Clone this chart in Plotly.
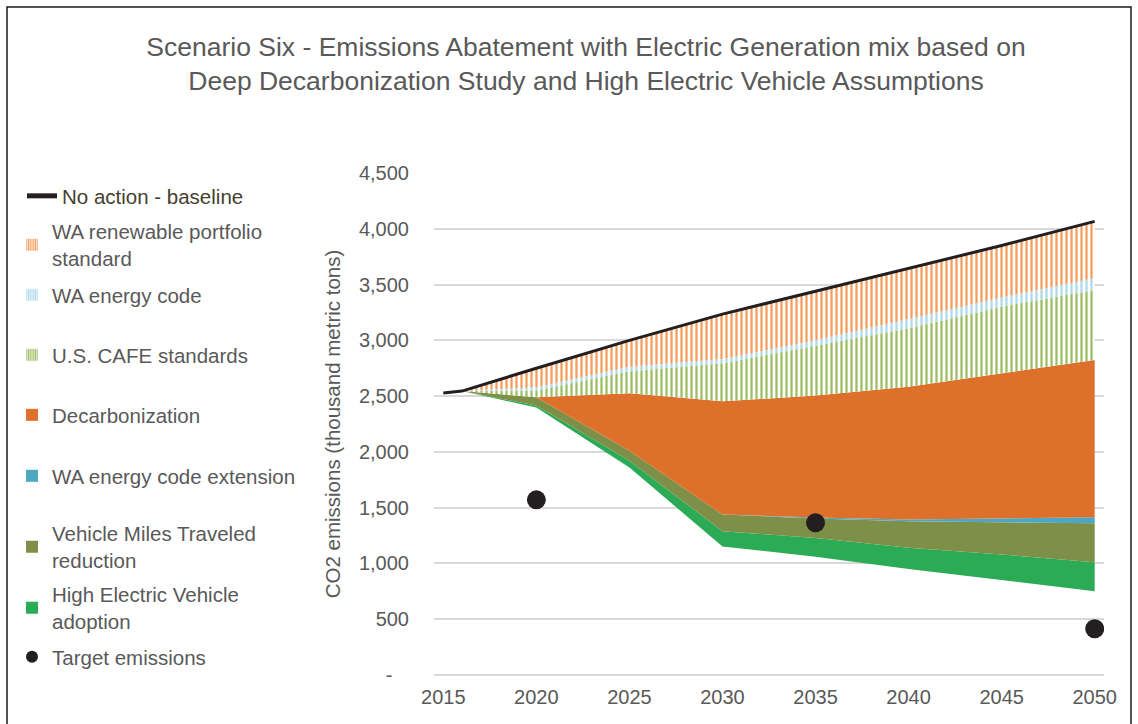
import plotly.graph_objects as go

# Emissions abatement wedges, thousand metric tons CO2
years = [2015, 2016, 2020, 2025, 2030, 2035, 2040, 2045, 2050]
remaining = [2527, 2545, 2397, 1860, 1152, 1060, 951, 853, 751]
high_ev = [0, 0, 18, 60, 137, 168, 189, 227, 260]
vmt_reduction = [0, 0, 75, 90, 149, 174, 238, 286, 349]
code_extension = [0, 0, 0, 0, 0, 10, 15, 39, 54]
decarbonization = [0, 0, 0, 515, 1015, 1093, 1192, 1299, 1410]
cafe = [0, 0, 60, 197, 341, 443, 523, 598, 628]
energy_code = [0, 0, 30, 42, 39, 52, 84, 83, 107]
rps = [0, 0, 170, 236, 402, 440, 453, 465, 507]
baseline = [2527, 2545, 2750, 3000, 3235, 3440, 3645, 3850, 4066]

target_years = [2020, 2035, 2050]
target_values = [1570, 1364, 415]

y_ticks = [0, 500, 1000, 1500, 2000, 2500, 3000, 3500, 4000, 4500]
y_tick_text = ["-\u00a0\u00a0\u00a0", "500", "1,000", "1,500", "2,000", "2,500",
               "3,000", "3,500", "4,000", "4,500"]
x_ticks = [2015, 2020, 2025, 2030, 2035, 2040, 2045, 2050]

FONT = "Arial, Liberation Sans, sans-serif"
GRAY = "#595959"

# plot-area geometry in pixels (used to place legends and frame)
W, H = 1138, 724
PL, PR, PT, PB = 434, 1104, 173, 675


def px_x(px):
    return (px - PL) / (PR - PL)


def px_y(py):
    return (PB - py) / (PB - PT)


# (legend text, values, color, hatched, legend center y), bottom of stack first
wedges = [
    ("High Electric Vehicle<br>adoption", high_ev, "#2BAB55", False, 608),
    ("Vehicle Miles Traveled<br>reduction", vmt_reduction, "#7E8F47", False, 547),
    ("WA energy code extension", code_extension, "#4DA6C2", False, 476),
    ("Decarbonization", decarbonization, "#DD702B", False, 415),
    ("U.S. CAFE standards", cafe, "#9CBD62", True, 355),
    ("WA energy code", energy_code, "#ADD9E8", True, 295),
    ("WA renewable portfolio<br>standard", rps, "#F59C5A", True, 245),
]

fig = go.Figure()

# invisible base of the stack: emissions remaining after all measures
fig.add_trace(go.Scatter(
    x=years, y=remaining, stackgroup="s", mode="lines",
    line=dict(width=0), fillcolor="rgba(0,0,0,0)",
    showlegend=False, hoverinfo="skip",
))

legend_layouts = {}
for i, (name, vals, color, hatched, ly) in enumerate(wedges):
    lg = f"legend{i + 2}"
    if hatched:
        fig.add_trace(go.Scatter(
            x=years, y=vals, stackgroup="s", mode="lines",
            line=dict(width=0), fillcolor="white",
            fillpattern=dict(shape="|", fgcolor=color, bgcolor="white",
                             fgopacity=1, size=5, solidity=0.45),
            showlegend=False, name=name,
        ))
        marker = dict(color="white", line=dict(width=0),
                      pattern=dict(shape="|", fgcolor=color, bgcolor="white",
                                   fgopacity=1, size=3, solidity=0.6))
    else:
        fig.add_trace(go.Scatter(
            x=years, y=vals, stackgroup="s", mode="lines",
            line=dict(width=0), fillcolor=color,
            showlegend=False, name=name,
        ))
        marker = dict(color=color, line=dict(width=0))
    # legend swatch
    fig.add_trace(go.Bar(x=[None], y=[None], name=name, marker=marker,
                         legend=lg, showlegend=True))
    legend_layouts[lg] = ly

# no action baseline
fig.add_trace(go.Scatter(
    x=years, y=baseline, mode="lines", name="No action - baseline",
    line=dict(color="#231F20", width=3), legend="legend",
))

# target emissions
fig.add_trace(go.Scatter(
    x=target_years, y=target_values, mode="markers", name="Target emissions",
    marker=dict(color="#231F20", size=19), legend="legend9",
))
legend_layouts["legend9"] = 657

layout_legends = {}
layout_legends["legend"] = dict(
    x=px_x(22), y=px_y(196), xanchor="left", yanchor="middle",
    font=dict(family=FONT, size=20.5, color="#45402F"),
    bgcolor="rgba(0,0,0,0)", itemsizing="constant",
)
for lg, ly in legend_layouts.items():
    layout_legends[lg] = dict(
        x=px_x(12), y=px_y(ly), xanchor="left", yanchor="middle",
        font=dict(family=FONT, size=20.5, color=GRAY),
        bgcolor="rgba(0,0,0,0)", itemsizing="constant",
    )

fig.update_layout(
    width=W, height=H,
    margin=dict(l=PL, r=W - PR, t=PT, b=H - PB, autoexpand=False),
    paper_bgcolor="white", plot_bgcolor="white",
    font=dict(family=FONT, color=GRAY),
    title=dict(
        text="Scenario Six - Emissions Abatement with Electric Generation mix based on"
             "<br>Deep Decarbonization Study and High Electric Vehicle Assumptions",
        x=586 / W, xanchor="center", y=1 - 56 / H, yanchor="middle",
        font=dict(family=FONT, size=26.5, color=GRAY),
    ),
    xaxis=dict(
        range=[2014.5, 2050.5], tickvals=x_ticks, showgrid=False,
        zeroline=False, showline=False, ticks="outside", ticklen=4,
        tickcolor="rgba(0,0,0,0)",
        tickfont=dict(family=FONT, size=20, color=GRAY),
    ),
    yaxis=dict(
        range=[0, 4500], tickvals=y_ticks, ticktext=y_tick_text,
        showgrid=True, gridcolor="#D9D9D9", gridwidth=1.5,
        zeroline=True, zerolinecolor="#D9D9D9", zerolinewidth=1.5,
        showline=False, ticks="outside", ticklen=20, tickcolor="rgba(0,0,0,0)",
        tickfont=dict(family=FONT, size=20, color=GRAY),
        title=dict(text="CO2 emissions (thousand metric tons)", standoff=12,
                   font=dict(family=FONT, size=20.5, color=GRAY)),
    ),
    showlegend=True,
    **layout_legends,
)

# outer frame
fig.add_shape(type="rect", xref="paper", yref="paper",
              x0=px_x(7), x1=px_x(1131), y0=px_y(740), y1=px_y(7),
              line=dict(color="#1A1A1A", width=1.5), fillcolor="rgba(0,0,0,0)",
              layer="below")

fig.write_html("out.html")
